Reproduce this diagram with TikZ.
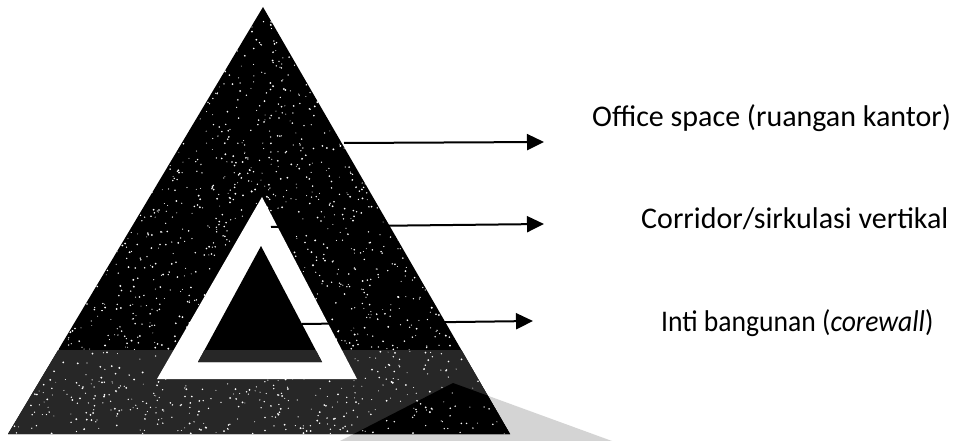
\documentclass[tikz,border=0pt]{standalone}
\usepackage{fontspec}
\usepackage{graphicx}
\setmainfont{Carlito}
\usetikzlibrary{arrows.meta}
\definecolor{band}{HTML}{272727}
\definecolor{wmark}{HTML}{D4D4D4}
\tikzset{
  pointer/.style={line width=2pt,-{Triangle[length=17pt,width=16pt]}},
  lbl/.style={anchor=base west,inner sep=0pt,font=\fontsize{30}{34}\selectfont}
}
\begin{document}
\begin{tikzpicture}[x=1pt,y=-1pt]
\useasboundingbox (0,0) rectangle (954,441);
% outer triangle corners
\coordinate (A) at (263,7);
\coordinate (BL) at (8,434);
\coordinate (BR) at (510,434);
% watermark wedge (outside part)
\fill[wmark] (340,441) -- (453,383) -- (612,441) -- cycle;
% outer triangle
\fill[black] (A) -- (BL) -- (BR) -- cycle;
\begin{scope}
  \clip (A) -- (BL) -- (BR) -- cycle;
  \fill[band] (0,350) rectangle (520,441);
  \fill[black] (340,441) -- (453,383) -- (612,441) -- cycle;
  \pgfmathsetseed{7}
  \foreach \i in {1,...,2600} {
    \pgfmathsetmacro\px{8+502*rnd}
    \pgfmathsetmacro\py{7+427*rnd}
    \pgfmathsetmacro\pr{0.45+0.6*rnd}
    \fill[white] (\px,\py) circle (\pr pt);
  }
\end{scope}
% corridor (white band)
\fill[white] (262,197) -- (157,379) -- (357,379) -- cycle;
% core
\coordinate (CA) at (261,246);
\coordinate (CL) at (198,362);
\coordinate (CR) at (322,362);
\fill[black] (CA) -- (CL) -- (CR) -- cycle;
\begin{scope}
  \clip (CA) -- (CL) -- (CR) -- cycle;
  \fill[band] (150,350) rectangle (340,370);
\end{scope}
% labels
\node[lbl] (office) at (592,127) {Office space (ruangan kantor)};
\node[lbl] (corr) at (641,229) {Corridor/sirkulasi vertikal};
\node[lbl] (core) at (661,331) {\scalebox{0.92}[1]{Inti bangunan (\textit{corewall})}};
% arrow start / end points
\coordinate (s1) at (344,143);
\coordinate (e1) at (544,142);
\coordinate (s2) at (271,227);
\coordinate (e2) at (544,224);
\coordinate (s3) at (302,324);
\coordinate (e3) at (533,321);
\draw[pointer] (s1) -- (e1);
\draw[pointer] (s2) -- (e2);
\draw[pointer] (s3) -- (e3);
\end{tikzpicture}
\end{document}
